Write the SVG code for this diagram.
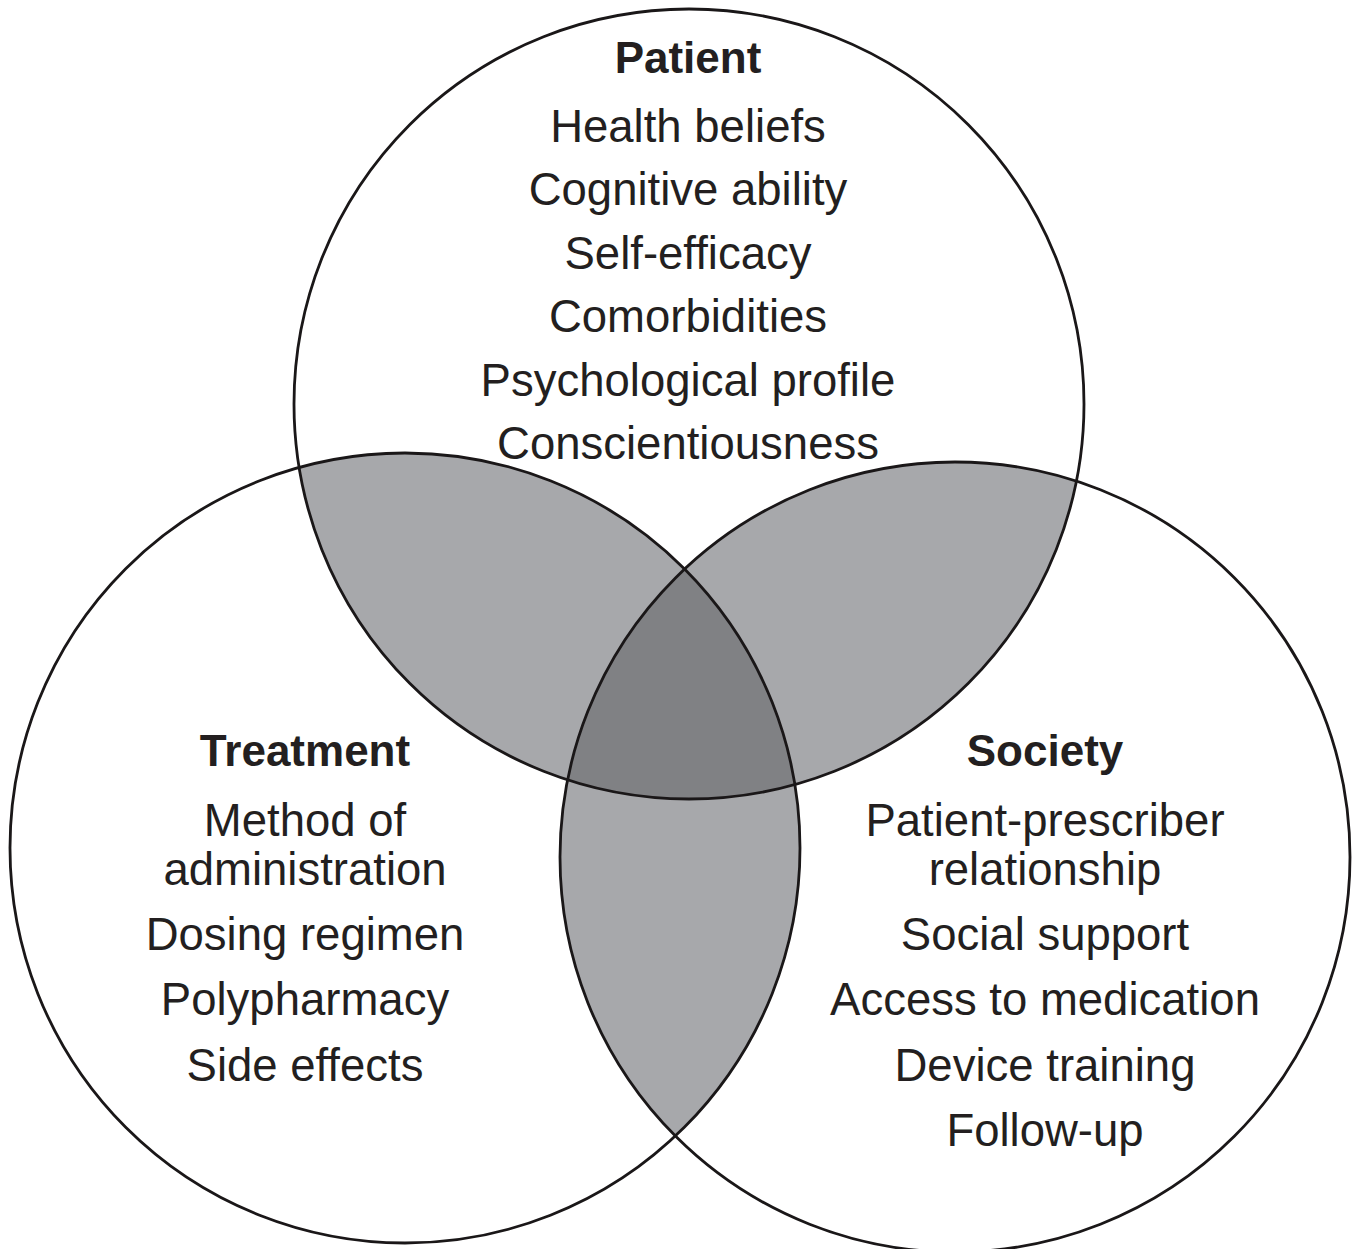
<svg xmlns="http://www.w3.org/2000/svg" width="1358" height="1249" viewBox="0 0 1358 1249">
<style>
.lbl{font-family:"Liberation Sans",Arial,sans-serif;font-size:45.5px;fill:#231f20;text-anchor:middle}
.ttl{font-family:"Liberation Sans",Arial,sans-serif;font-size:44px;font-weight:bold;fill:#231f20;text-anchor:middle}
.ring{fill:none;stroke:#1a1718;stroke-width:2.8}
</style>
<defs>
<clipPath id="cT"><circle cx="689" cy="404" r="395"/></clipPath>
<clipPath id="cL"><circle cx="405" cy="848" r="395"/></clipPath>
<clipPath id="cR"><circle cx="955" cy="857" r="395"/></clipPath>
</defs>
<rect width="1358" height="1249" fill="#fff"/>
<g id="overlaps">
<circle cx="689" cy="404" r="395" fill="#a7a8ab" clip-path="url(#cL)"/>
<circle cx="689" cy="404" r="395" fill="#a7a8ab" clip-path="url(#cR)"/>
<circle cx="405" cy="848" r="395" fill="#a7a8ab" clip-path="url(#cR)"/>
<g clip-path="url(#cR)"><circle cx="689" cy="404" r="395" fill="#808184" clip-path="url(#cL)"/></g>
</g>
<g id="patient">
<circle class="ring" cx="689" cy="404" r="395"/>
<text class="ttl" x="688" y="73">Patient</text>
<text class="lbl" x="688" y="142">Health beliefs</text>
<text class="lbl" x="688" y="205">Cognitive ability</text>
<text class="lbl" x="688" y="269">Self-efficacy</text>
<text class="lbl" x="688" y="332">Comorbidities</text>
<text class="lbl" x="688" y="396">Psychological profile</text>
<text class="lbl" x="688" y="459">Conscientiousness</text>
</g>
<g id="treatment">
<circle class="ring" cx="405" cy="848" r="395"/>
<text class="ttl" x="305" y="766">Treatment</text>
<text class="lbl" x="305" y="836">Method of</text>
<text class="lbl" x="305" y="885">administration</text>
<text class="lbl" x="305" y="950">Dosing regimen</text>
<text class="lbl" x="305" y="1015">Polypharmacy</text>
<text class="lbl" x="305" y="1081">Side effects</text>
</g>
<g id="society">
<circle class="ring" cx="955" cy="857" r="395"/>
<text class="ttl" x="1045" y="766">Society</text>
<text class="lbl" x="1045" y="836">Patient-prescriber</text>
<text class="lbl" x="1045" y="885">relationship</text>
<text class="lbl" x="1045" y="950">Social support</text>
<text class="lbl" x="1045" y="1015">Access to medication</text>
<text class="lbl" x="1045" y="1081">Device training</text>
<text class="lbl" x="1045" y="1146">Follow-up</text>
</g>
<g id="connectors"/>
</svg>
